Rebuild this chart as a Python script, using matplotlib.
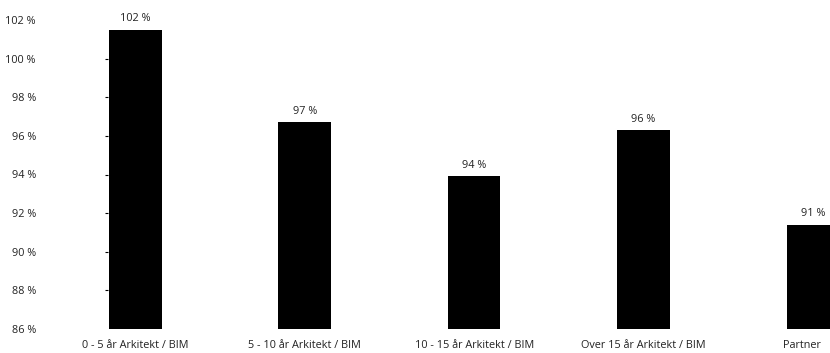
import numpy as np
import matplotlib
matplotlib.use('Agg')
import matplotlib.pyplot as plt
import matplotlib.transforms as mtransforms

categories = ['0 - 5 år Arkitekt / BIM', '5 - 10 år Arkitekt / BIM',
              '10 - 15 år Arkitekt / BIM', 'Over 15 år Arkitekt / BIM', 'Partner']
values = [101.5, 96.7, 93.9, 96.3, 91.4]
yticks = [86, 88, 90, 92, 94, 96, 98, 100, 102]

plt.rcParams['font.family'] = ['Open Sans', 'DejaVu Sans']

fig = plt.figure(figsize=(8.3, 3.53), dpi=100)
W, H = 830, 353
ax = fig.add_axes([108 / W, (H - 329) / H, (830 - 108) / W, 309 / H])

x = np.arange(len(categories))
bars = ax.bar(x, [v - 86 for v in values], bottom=86, width=0.31, color='black')

for xi, v in zip(x, values):
    ax.annotate('%d %%' % round(v), (xi, v), xytext=(0, 4), textcoords='offset points',
                ha='center', va='bottom', fontsize=7.8, color='#222222')

ax.set_xlim(-0.161, 4.10)
ax.set_ylim(86, 102)
ax.set_yticks(yticks)
ax.set_yticklabels(['%d %%' % t for t in yticks], fontsize=7.8, color='#222222')
ax.set_xticks(x)
ax.set_xticklabels(categories, fontsize=7.8, color='#222222')
ax.tick_params(axis='y', length=2, width=0.8, pad=50)
ax.tick_params(axis='x', length=0, pad=8)
for s in ax.spines.values():
    s.set_visible(False)

# no tick marks at the ends of the value axis
yt = ax.yaxis.get_major_ticks()
yt[0].tick1line.set_visible(False)
yt[-1].tick1line.set_visible(False)

# last category label is nudged left so it fits inside the figure
last = ax.get_xticklabels()[-1]
last.set_transform(last.get_transform() +
                   mtransforms.ScaledTranslation(-8 / 72, 0, fig.dpi_scale_trans))

fig.savefig('out.png', dpi=100)
